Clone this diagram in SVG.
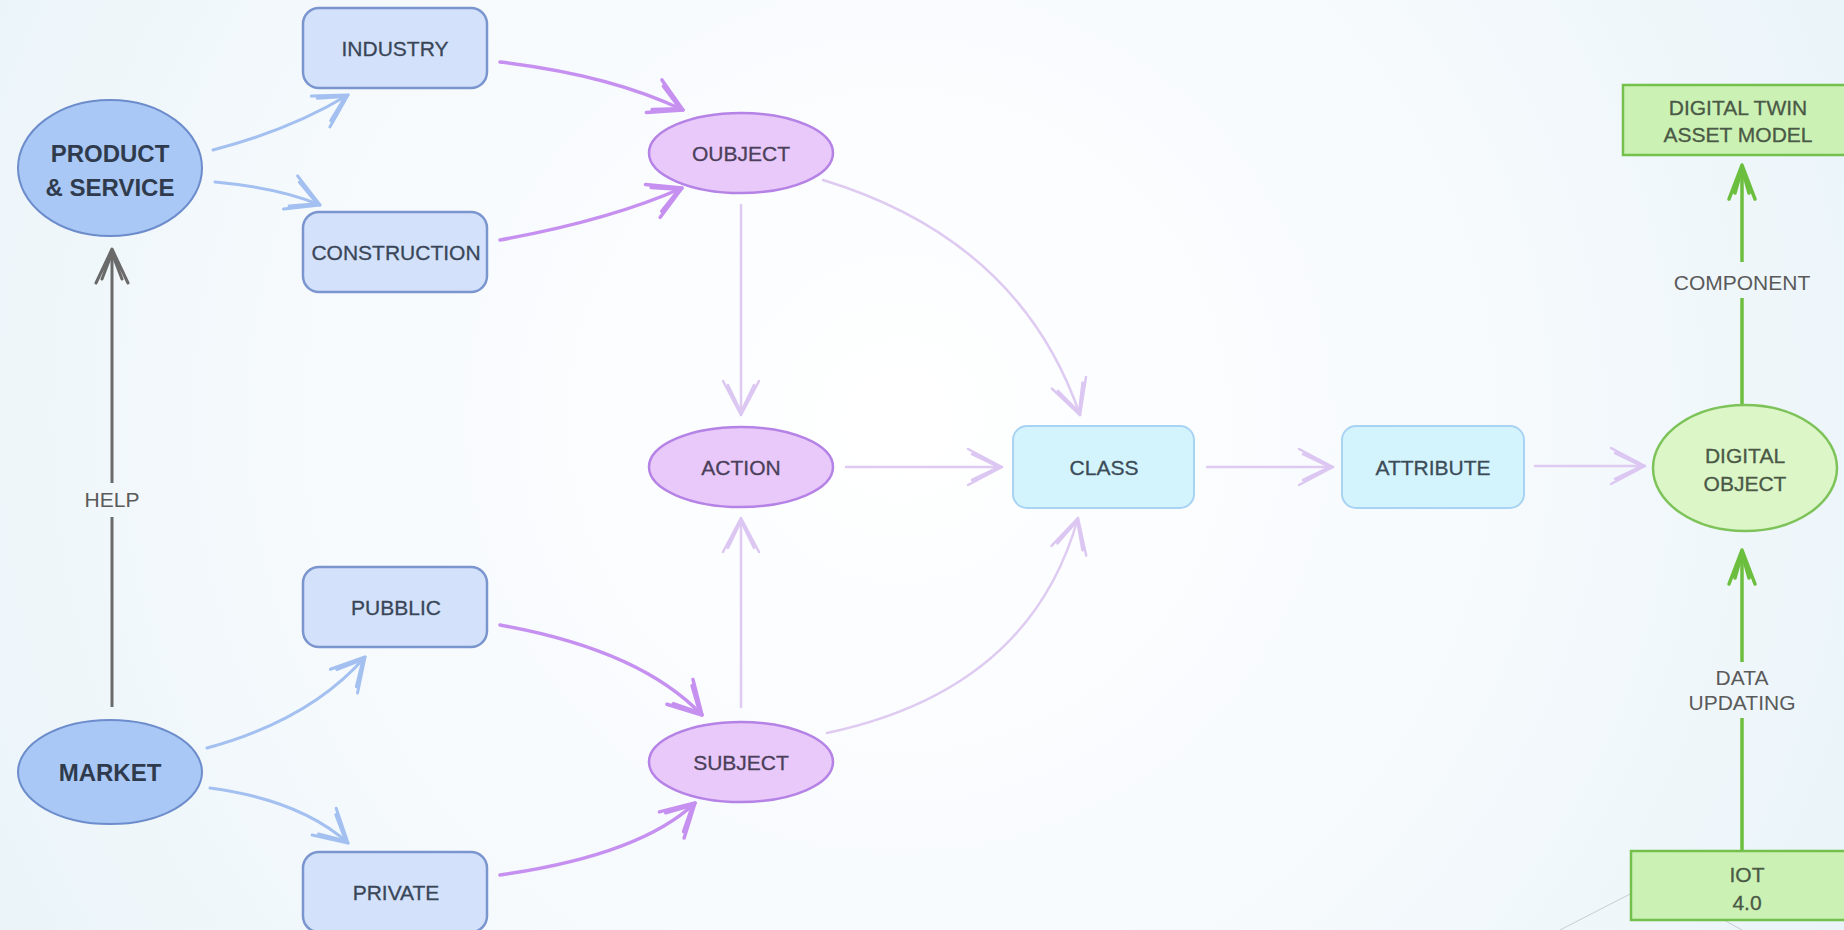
<svg xmlns="http://www.w3.org/2000/svg" width="1844" height="930" viewBox="0 0 1844 930">
  <defs>
    <radialGradient id="bg" cx="900" cy="420" r="1100" gradientUnits="userSpaceOnUse">
      <stop offset="0" stop-color="#ffffff"/>
      <stop offset="0.55" stop-color="#f6fafd"/>
      <stop offset="1" stop-color="#e8f3f8"/>
    </radialGradient>
    <!-- open chevron heads, sized in user units -->
    <marker id="ah-blue" markerUnits="userSpaceOnUse" markerWidth="50" markerHeight="50" viewBox="-40 -25 50 50" refX="0" refY="0" orient="auto">
      <path d="M-32,-18 L0,0 L-32,18 M-28,-13 L-3,0 L-28,13" fill="none" stroke="#a3c0f0" stroke-width="3" stroke-linecap="round" stroke-linejoin="round"/>
    </marker>
    <marker id="ah-purple" markerUnits="userSpaceOnUse" markerWidth="50" markerHeight="50" viewBox="-40 -25 50 50" refX="0" refY="0" orient="auto">
      <path d="M-32,-18 L0,0 L-32,18 M-28,-13 L-3,0 L-28,13" fill="none" stroke="#c690f0" stroke-width="3.5" stroke-linecap="round" stroke-linejoin="round"/>
    </marker>
    <marker id="ah-faint" markerUnits="userSpaceOnUse" markerWidth="50" markerHeight="50" viewBox="-40 -25 50 50" refX="0" refY="0" orient="auto">
      <path d="M-34,-18 L0,0 L-34,18 M-30,-13 L-3,0 L-30,13" fill="none" stroke="#dcc6f2" stroke-width="2.5" stroke-linecap="round" stroke-linejoin="round"/>
    </marker>
    <marker id="ah-gray" markerUnits="userSpaceOnUse" markerWidth="50" markerHeight="50" viewBox="-40 -25 50 50" refX="0" refY="0" orient="auto">
      <path d="M-34,-16 L0,0 L-34,16 M-30,-10 L-4,0 L-30,10" fill="none" stroke="#6a6a6a" stroke-width="3" stroke-linecap="round" stroke-linejoin="round"/>
    </marker>
    <marker id="ah-green" markerUnits="userSpaceOnUse" markerWidth="50" markerHeight="50" viewBox="-40 -25 50 50" refX="0" refY="0" orient="auto">
      <path d="M-34,-13 L0,0 L-34,13 M-28,-7 L-3,0 L-28,7" fill="none" stroke="#6cbf3e" stroke-width="3.5" stroke-linecap="round" stroke-linejoin="round"/>
    </marker>
  </defs>
  <style>
    text { font-family: "Liberation Sans", Arial, sans-serif; text-anchor: middle; }
    .t { font-size: 21px; stroke-width: 0.3px; }
    .tb { font-size: 24px; font-weight: bold; fill: #2f3b4d; }
    .blue-el { fill: #a9c8f5; stroke: #6d8ccc; stroke-width: 2; }
    .blue-box { fill: #d3e2fa; stroke: #7b95cf; stroke-width: 2.5; }
    .purple-el { fill: #e8c9f9; stroke: #b582e6; stroke-width: 2.5; }
    .cyan-box { fill: #d4f4fd; stroke: #a9d3f2; stroke-width: 2; }
    .green-el { fill: #dcf6c8; stroke: #7ec35a; stroke-width: 2.5; }
    .green-box { fill: #ccf1b4; stroke: #73c04c; stroke-width: 2.5; }
    .txt-blue { fill: #3a4658; stroke: #3a4658; }
    .txt-purple { fill: #4b3f5a; stroke: #4b3f5a; }
    .txt-cyan { fill: #3b4c58; stroke: #3b4c58; }
    .txt-green { fill: #4a5946; stroke: #4a5946; }
    .lbl { font-size: 21px; fill: #5a5a5a; }
    .c-blue { fill: none; stroke: #a3c0f0; stroke-width: 3; stroke-linecap: round; }
    .c-purple { fill: none; stroke: #c690f0; stroke-width: 3.5; stroke-linecap: round; }
    .c-faint { fill: none; stroke: #dfcbf2; stroke-width: 2.5; stroke-linecap: round; }
    .c-gray { fill: none; stroke: #6a6a6a; stroke-width: 3; }
    .c-green { fill: none; stroke: #6cbf3e; stroke-width: 3.5; }
    .deco { stroke: #c9ccd0; stroke-width: 1; fill: none; }
  </style>

  <rect x="0" y="0" width="1844" height="930" fill="url(#bg)"/>
  <!-- thin decorative strokes, bottom right -->
  <path class="deco" d="M1560,930 L1632,893"/>
  <path class="deco" d="M1706,910 L1742,930"/>

  <g id="connectors">
    <path class="c-blue" d="M213,150 Q290,130 348,95" marker-end="url(#ah-blue)"/>
    <path class="c-blue" d="M215,182 Q280,188 320,205" marker-end="url(#ah-blue)"/>
    <path class="c-blue" d="M207,748 Q310,720 365,657" marker-end="url(#ah-blue)"/>
    <path class="c-blue" d="M210,788 Q300,800 348,843" marker-end="url(#ah-blue)"/>

    <path class="c-purple" d="M500,62 Q610,75 683,110" marker-end="url(#ah-purple)"/>
    <path class="c-purple" d="M500,240 Q610,220 682,188" marker-end="url(#ah-purple)"/>
    <path class="c-purple" d="M500,625 Q640,650 702,715" marker-end="url(#ah-purple)"/>
    <path class="c-purple" d="M500,875 Q640,855 695,803" marker-end="url(#ah-purple)"/>

    <path class="c-faint" d="M823,180 Q1020,240 1080,415" marker-end="url(#ah-faint)"/>
    <path class="c-faint" d="M827,733 Q1030,690 1078,518" marker-end="url(#ah-faint)"/>
    <path class="c-faint" d="M741,205 L741,415" marker-end="url(#ah-faint)"/>
    <path class="c-faint" d="M741,707 L741,518" marker-end="url(#ah-faint)"/>
    <path class="c-faint" d="M846,467 L1002,467" marker-end="url(#ah-faint)"/>
    <path class="c-faint" d="M1207,467 L1333,467" marker-end="url(#ah-faint)"/>
    <path class="c-faint" d="M1535,466 L1645,466" marker-end="url(#ah-faint)"/>

    <path class="c-gray" d="M112,707 L112,517"/>
    <path class="c-gray" d="M112,483 L112,249" marker-end="url(#ah-gray)"/>
    <text class="lbl" x="112" y="507">HELP</text>

    <path class="c-green" d="M1742,405 L1742,298"/>
    <path class="c-green" d="M1742,262 L1742,165" marker-end="url(#ah-green)"/>
    <text class="lbl" x="1742" y="290">COMPONENT</text>

    <path class="c-green" d="M1742,851 L1742,718"/>
    <path class="c-green" d="M1742,662 L1742,550" marker-end="url(#ah-green)"/>
    <text class="lbl" x="1742" y="685">DATA</text>
    <text class="lbl" x="1742" y="710">UPDATING</text>
  </g>

  <g id="product-service">
    <ellipse class="blue-el" cx="110" cy="168" rx="92" ry="68"/>
    <text class="tb" x="110" y="162">PRODUCT</text>
    <text class="tb" x="110" y="196">&amp; SERVICE</text>
  </g>
  <g id="market">
    <ellipse class="blue-el" cx="110" cy="772" rx="92" ry="52"/>
    <text class="tb" x="110" y="781">MARKET</text>
  </g>

  <g id="industry">
    <rect class="blue-box" x="303" y="8" width="184" height="80" rx="16"/>
    <text class="t txt-blue" x="395" y="56">INDUSTRY</text>
  </g>
  <g id="construction">
    <rect class="blue-box" x="303" y="212" width="184" height="80" rx="16"/>
    <text class="t txt-blue" x="396" y="260">CONSTRUCTION</text>
  </g>
  <g id="pubblic">
    <rect class="blue-box" x="303" y="567" width="184" height="80" rx="16"/>
    <text class="t txt-blue" x="396" y="615">PUBBLIC</text>
  </g>
  <g id="private">
    <rect class="blue-box" x="303" y="852" width="184" height="80" rx="16"/>
    <text class="t txt-blue" x="396" y="900">PRIVATE</text>
  </g>

  <g id="oubject">
    <ellipse class="purple-el" cx="741" cy="153" rx="92" ry="40"/>
    <text class="t txt-purple" x="741" y="161">OUBJECT</text>
  </g>
  <g id="action">
    <ellipse class="purple-el" cx="741" cy="467" rx="92" ry="40"/>
    <text class="t txt-purple" x="741" y="475">ACTION</text>
  </g>
  <g id="subject">
    <ellipse class="purple-el" cx="741" cy="762" rx="92" ry="40"/>
    <text class="t txt-purple" x="741" y="770">SUBJECT</text>
  </g>

  <g id="class">
    <rect class="cyan-box" x="1013" y="426" width="181" height="82" rx="14"/>
    <text class="t txt-cyan" x="1104" y="475">CLASS</text>
  </g>
  <g id="attribute">
    <rect class="cyan-box" x="1342" y="426" width="182" height="82" rx="14"/>
    <text class="t txt-cyan" x="1433" y="475">ATTRIBUTE</text>
  </g>

  <g id="digital-object">
    <ellipse class="green-el" cx="1745" cy="468" rx="92" ry="63"/>
    <text class="t txt-green" x="1745" y="463">DIGITAL</text>
    <text class="t txt-green" x="1745" y="491">OBJECT</text>
  </g>
  <g id="digital-twin">
    <rect class="green-box" x="1623" y="85" width="236" height="70"/>
    <text class="t txt-green" x="1738" y="115">DIGITAL TWIN</text>
    <text class="t txt-green" x="1738" y="142">ASSET MODEL</text>
  </g>
  <g id="iot">
    <rect class="green-box" x="1631" y="851" width="236" height="69"/>
    <text class="t txt-green" x="1747" y="882">IOT</text>
    <text class="t txt-green" x="1747" y="910">4.0</text>
  </g>
</svg>
